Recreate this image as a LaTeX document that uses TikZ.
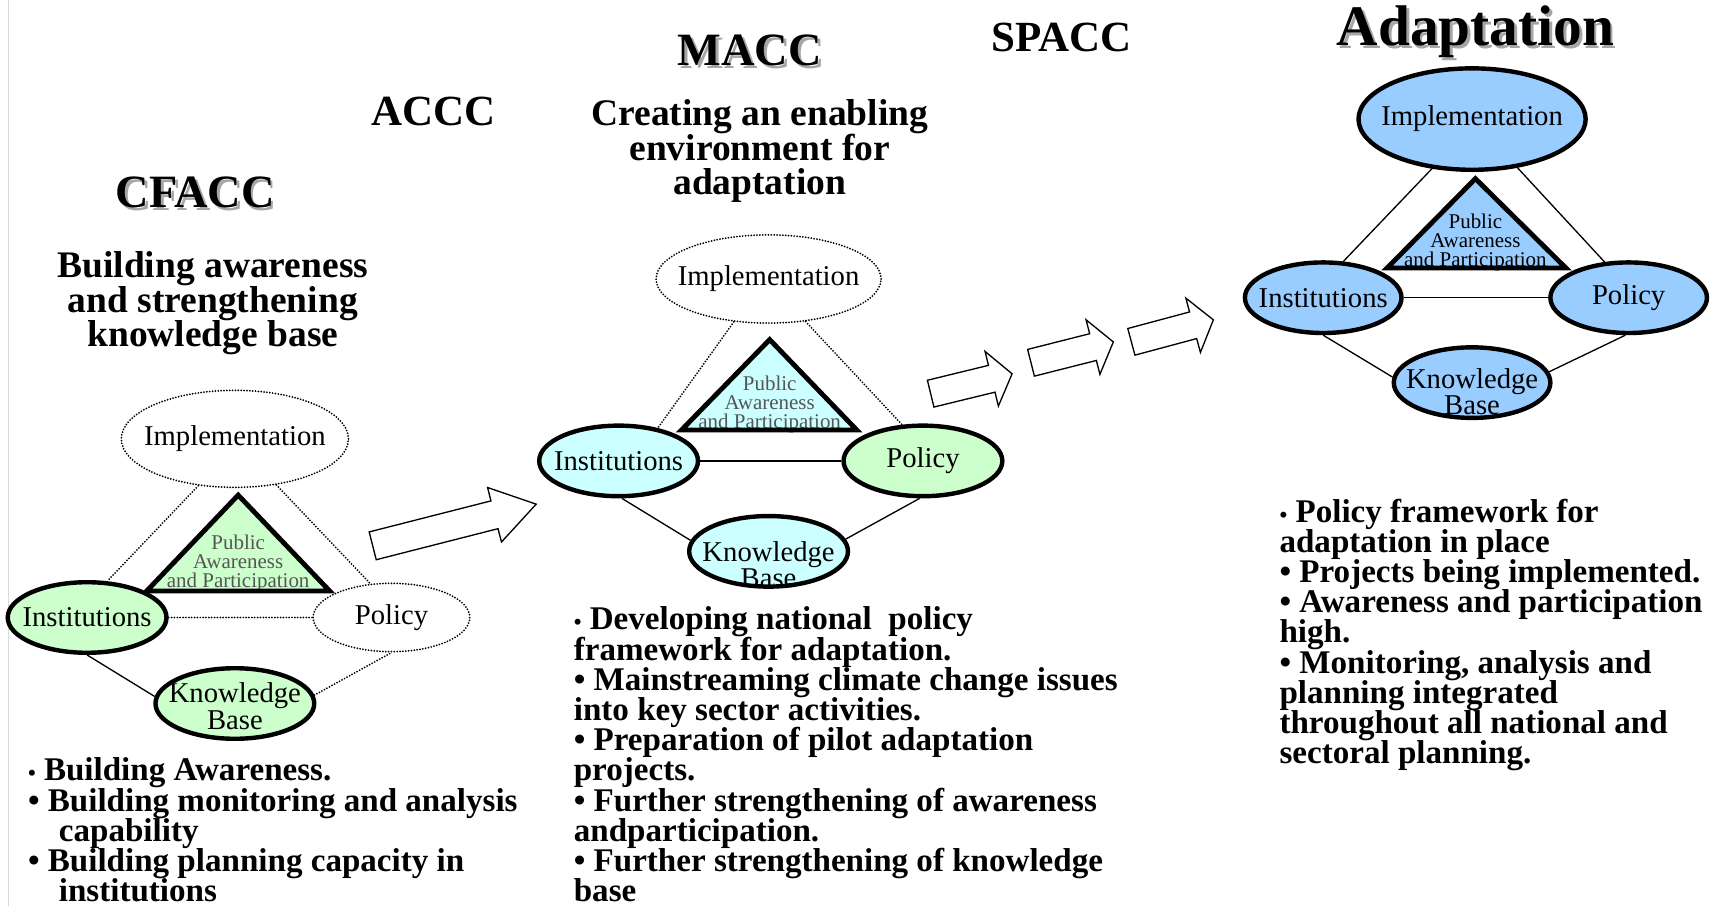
\documentclass[tikz,border=0pt]{standalone}
\usepackage{fontspec}
\setmainfont{Liberation Serif}
\usetikzlibrary{shapes.geometric}

\definecolor{cfgreen}{HTML}{CCFFCC}
\definecolor{macyan}{HTML}{CCFFFF}
\definecolor{adblue}{HTML}{99CCFF}
\definecolor{trigray}{HTML}{555555}

\setlength{\lineskiplimit}{-100pt}
\newcommand{\shadowed}[1]{\makebox[0pt][l]{\hspace{1.3pt}\raisebox{-1.3pt}{\color{black!35}#1}}#1}
\newcommand{\kbtext}[1]{\raisebox{#1}[0pt][0pt]{\lineskiplimit=0pt\begin{tabular}{@{}c@{}}Knowledge\\Base\end{tabular}}}
\newcommand{\firstdot}{{\fontsize{10}{10}\selectfont\textbullet}}
\newcommand{\blockarrow}[5]{\draw[blockline,shift={(#1)},rotate=#2]
  (0,-#5) -- ({#3-#4},-#5) -- ({#3-#4},-25.5) -- (#3,0) -- ({#3-#4},25.5) -- ({#3-#4},#5) -- (0,#5) -- cycle;}

\tikzset{
  blob/.style={ellipse,draw,line width=2pt,minimum width=72pt,minimum height=32pt,inner sep=-12pt,font=\fontsize{13}{12}\selectfont},
  dotblob/.style={ellipse,draw,line width=0.9pt,line cap=round,dash pattern=on 0pt off 1.3pt,minimum width=72pt,minimum height=32pt,inner sep=-12pt,font=\fontsize{13}{12}\selectfont},
  dotline/.style={line width=0.9pt,line cap=round,dash pattern=on 0pt off 1.3pt},
  thinline/.style={line width=0.6pt},
  triline/.style={line width=2.2pt,line join=miter},
  tritext/.style={font=\fontsize{9.5}{8.7}\selectfont,align=center,inner sep=0pt},
  title/.style={font=\bfseries\fontsize{20}{22}\selectfont,inner sep=0pt},
  subtitle/.style={font=\bfseries\fontsize{17}{15.5}\selectfont,align=center,inner sep=0pt},
  bullets/.style={font=\bfseries\fontsize{15}{13.7}\selectfont,align=left,anchor=north west,inner sep=0pt},
  blockline/.style={line width=0.6pt,fill=white,line join=miter}
}

\begin{document}
\begin{tikzpicture}[x=0.5pt,y=0.5pt]
  \useasboundingbox (0,0) rectangle (1568,-822);
  \draw[black!15] (8,0) -- (8,-822);

  \node[title,font=\bfseries\fontsize{21}{22}\selectfont] (cfacc) at (177,-176) {\shadowed{CFACC}};
  \node[title,font=\bfseries\fontsize{19.5}{22}\selectfont] (accc) at (393,-101) {ACCC};
  \node[title,font=\bfseries\fontsize{21}{22}\selectfont] (macc) at (680,-47) {\shadowed{MACC}};
  \node[title,font=\bfseries\fontsize{19.5}{22}\selectfont] (spacc) at (963,-34) {SPACC};
  \node[title,font=\bfseries\fontsize{26}{28}\selectfont] (adapt) at (1338,-30) {\shadowed{Adaptation}};

  \node[subtitle] (cf-sub) at (193,-275) {Building awareness\\and strengthening\\knowledge base};
  \node[subtitle] (ma-sub) at (689,-137) {Creating an enabling\\environment for\\adaptation};

  \node[dotblob,minimum width=103pt,minimum height=44pt] (cf-impl) at (213,-398) {Implementation};
  \coordinate (cf-top) at (216,-449);
  \coordinate (cf-bl) at (133,-536);
  \coordinate (cf-br) at (299,-536);
  \fill[cfgreen] (cf-top) -- (cf-bl) -- (cf-br) -- cycle;
  \node[tritext,text=trigray] (cf-pap) at (216,-511) {Public\\Awareness\\and Participation};
  \draw[triline] (cf-top) -- (cf-bl) -- (cf-br) -- cycle;
  \node[blob,fill=cfgreen] (cf-inst) at (79,-560) {Institutions};
  \node[dotblob,minimum width=71pt,minimum height=31pt] (cf-pol) at (355,-560) {Policy};
  \node[blob,fill=cfgreen] (cf-know) at (213,-638) {\kbtext{-5.8pt}};
  \path[dotline]
    (cf-impl.232) edge (cf-inst.61)
    (cf-impl.312) edge (cf-pol.122)
    (cf-inst.east) edge (cf-pol.west)
    (cf-know.6) edge (cf-pol.south);
  \path[thinline] (cf-inst.south) edge (cf-know.175);

  \node[dotblob,minimum width=102pt,minimum height=40pt] (ma-impl) at (697,-253) {Implementation};
  \coordinate (ma-top) at (698,-308);
  \coordinate (ma-bl) at (618,-390);
  \coordinate (ma-br) at (777,-390);
  \fill[macyan] (ma-top) -- (ma-bl) -- (ma-br) -- cycle;
  \node[tritext,text=trigray] (ma-pap) at (698,-367) {Public\\Awareness\\and Participation};
  \draw[triline] (ma-top) -- (ma-bl) -- (ma-br) -- cycle;
  \node[blob,fill=macyan] (ma-inst) at (561,-418) {Institutions};
  \node[blob,fill=cfgreen] (ma-pol) at (837,-418) {Policy};
  \node[blob,fill=macyan] (ma-know) at (697,-500) {\kbtext{-10.8pt}};
  \path[dotline]
    (ma-impl.231) edge (ma-inst.40)
    (ma-impl.311) edge (ma-pol.120);
  \path[thinline]
    (ma-inst.east) edge (ma-pol.west)
    (ma-inst.275) edge (ma-know.172)
    (ma-know.9) edge (ma-pol.265);

  \node[blob,fill=adblue,minimum width=103pt,minimum height=46pt] (ad-impl) at (1335,-108) {Implementation};
  \coordinate (ad-top) at (1338,-162);
  \coordinate (ad-bl) at (1258,-243);
  \coordinate (ad-br) at (1420,-243);
  \fill[adblue] (ad-top) -- (ad-bl) -- (ad-br) -- cycle;
  \node[tritext] (ad-pap) at (1338,-220) {Public\\Awareness\\and Participation};
  \draw[triline] (ad-top) -- (ad-bl) -- (ad-br) -- cycle;
  \node[blob,fill=adblue,minimum width=71pt] (ad-inst) at (1200,-270) {Institutions};
  \node[blob,fill=adblue,minimum width=71pt] (ad-pol) at (1477,-270) {Policy};
  \node[blob,fill=adblue,minimum width=71pt] (ad-know) at (1335,-347) {\kbtext{-8.8pt}};
  \path[thinline]
    (ad-impl.231) edge (ad-inst.61)
    (ad-impl.313) edge (ad-pol.124)
    (ad-inst.east) edge (ad-pol.west)
    (ad-inst.south) edge (ad-know.176)
    (ad-know.8) edge (ad-pol.265);

  \blockarrow{338,-495}{14.3}{153}{39}{13}
  \blockarrow{844,-357}{13.7}{76}{19}{12.5}
  \blockarrow{935,-329}{14.2}{77}{19}{12.5}
  \blockarrow{1026,-310}{15}{77}{19}{12.5}

  \node[bullets] (cf-list) at (25,-687) {\firstdot\ Building Awareness.\\
    \textbullet\ Building monitoring and analysis\\
    \hspace*{14pt}capability\\
    \textbullet\ Building planning capacity in\\
    \hspace*{14pt}institutions};
  \node[bullets] (ma-list) at (520,-550) {\firstdot\ Developing national\ \ policy\\
    framework for adaptation.\\
    \textbullet\ Mainstreaming climate change issues\\
    into key sector activities.\\
    \textbullet\ Preparation of pilot adaptation\\
    projects.\\
    \textbullet\ Further strengthening of awareness\\
    andparticipation.\\
    \textbullet\ Further strengthening of knowledge\\
    base};
  \node[bullets] (ad-list) at (1160,-452) {\firstdot\ Policy framework for\\
    adaptation in place\\
    \textbullet\ Projects being implemented.\\
    \textbullet\ Awareness and participation\\
    high.\\
    \textbullet\ Monitoring, analysis and\\
    planning integrated\\
    throughout all national and\\
    sectoral planning.};
\end{tikzpicture}
\end{document}
